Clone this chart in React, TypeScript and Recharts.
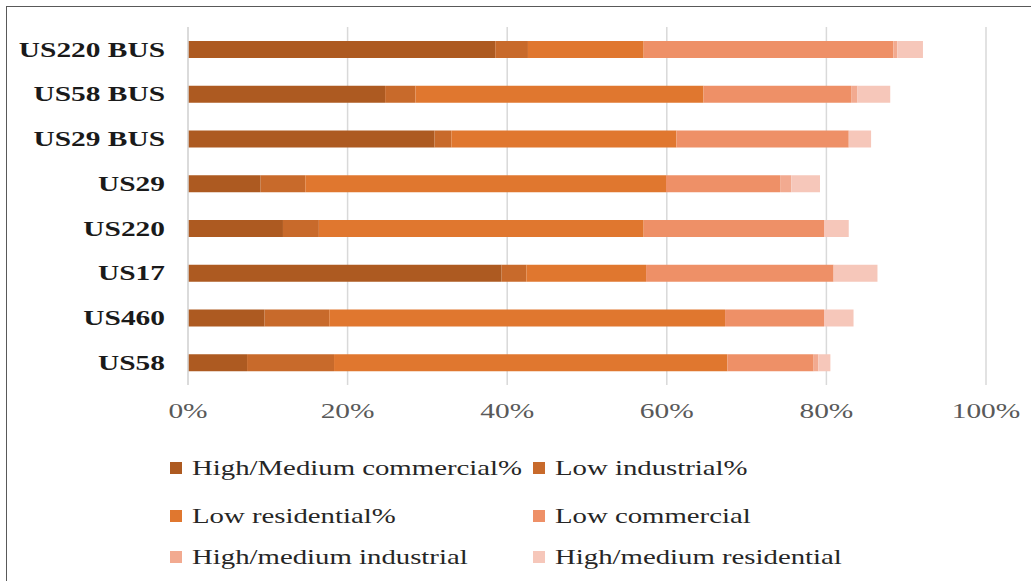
import React from 'react';
import { BarChart, Bar, XAxis, YAxis, CartesianGrid } from 'recharts';

// Roads, top to bottom
const categories = ['US220 BUS', 'US58 BUS', 'US29 BUS', 'US29', 'US220', 'US17', 'US460', 'US58'];

// Share of each land use (%)
const hmCommercial = [38.5, 24.7, 30.9, 9.1, 11.9, 39.3, 9.6, 7.4];
const lowIndustrial = [4.1, 3.8, 2.1, 5.6, 4.5, 3.1, 8.1, 10.9];
const lowResidential = [14.5, 36.1, 28.2, 45.2, 40.7, 15.0, 49.6, 49.3];
const lowCommercial = [31.3, 18.5, 21.6, 14.3, 22.6, 23.5, 12.4, 10.8];
const hmIndustrial = [0.5, 0.8, 0, 1.4, 0, 0, 0, 0.6];
const hmResidential = [3.2, 4.1, 2.8, 3.6, 3.1, 5.5, 3.7, 1.5];

const xTicks = [0, 20, 40, 60, 80, 100];

const seriesNames = [
  'High/Medium commercial%',
  'Low industrial%',
  'Low residential%',
  'Low commercial',
  'High/medium industrial',
  'High/medium residential',
];
const seriesKeys = ['hmc', 'li', 'lr', 'lc', 'hmi', 'hmr'];
const seriesColors = ['#ad5a21', '#c86a2b', '#e0772f', '#ee9067', '#f2aa90', '#f6c7ba'];

const data = categories.map((name, i) => ({
  name,
  hmc: hmCommercial[i],
  li: lowIndustrial[i],
  lr: lowResidential[i],
  lc: lowCommercial[i],
  hmi: hmIndustrial[i],
  hmr: hmResidential[i],
}));

const FONT = '"Liberation Serif", "Times New Roman", serif';
const STRETCH = 1.4;

const XTick = (props: any) => {
  const { x, y, payload } = props;
  return (
    <g transform={`translate(${x},${y})`}>
      <text
        x={0}
        y={0}
        dy="0.71em"
        textAnchor="middle"
        fill="#595959"
        fontSize={21}
        fontFamily={FONT}
        transform={`scale(${STRETCH},1)`}
      >
        {`${payload.value}%`}
      </text>
    </g>
  );
};

const YTick = (props: any) => {
  const { x, y, payload } = props;
  return (
    <g transform={`translate(${x},${y})`}>
      <text
        x={0}
        y={0}
        dy="0.35em"
        textAnchor="end"
        fill="#1a1a1a"
        fontSize={21}
        fontWeight="bold"
        fontFamily={FONT}
        transform={`scale(${STRETCH},1)`}
      >
        {payload.value}
      </text>
    </g>
  );
};

// legend slots: [left of square, centre y]
const legendPos = [
  [170, 468],
  [533, 468],
  [170, 516],
  [533, 516],
  [170, 557],
  [533, 557],
];

export default function App() {
  return (
    <div style={{ position: 'fixed', left: 0, top: 0, width: 1031, height: 581, overflow: 'hidden', background: '#fff' }}>
      <div
        style={{
          position: 'absolute',
          left: 6,
          top: 6,
          width: 1030,
          height: 590,
          border: '1px solid #595959',
          boxSizing: 'border-box',
        }}
      />
      <div style={{ position: 'absolute', left: 0, top: 0 }}>
        <BarChart
          width={1031}
          height={440}
          data={data}
          layout="vertical"
          margin={{ top: 27, right: 45, left: 0, bottom: 0 }}
          barSize={17}
        >
          <CartesianGrid horizontal={false} stroke="#d9d9d9" strokeWidth={1.5} />
          <XAxis
            type="number"
            domain={[0, 100]}
            ticks={xTicks}
            axisLine={false}
            tickLine={false}
            tickSize={0}
            tickMargin={18}
            height={55}
            tick={<XTick />}
            interval={0}
          />
          <YAxis
            type="category"
            dataKey="name"
            width={188}
            axisLine={{ stroke: '#d9d9d9', strokeWidth: 1.5 }}
            tickLine={false}
            tickSize={0}
            tickMargin={23}
            tick={<YTick />}
            interval={0}
          />
          {seriesKeys.map((k, i) => (
            <Bar key={k} dataKey={k} stackId="a" fill={seriesColors[i]} isAnimationActive={false} />
          ))}
        </BarChart>
      </div>
      {seriesNames.map((name, i) => (
        <div
          key={name}
          style={{
            position: 'absolute',
            left: legendPos[i][0],
            top: legendPos[i][1] - 14,
            height: 28,
            display: 'flex',
            alignItems: 'center',
            whiteSpace: 'nowrap',
          }}
        >
          <div style={{ width: 12, height: 12, background: seriesColors[i], marginRight: 10 }} />
          <span
            style={{
              display: 'inline-block',
              fontFamily: FONT,
              fontSize: 21,
              color: '#262626',
              transform: 'scaleX(1.37)',
              transformOrigin: 'left center',
            }}
          >
            {name}
          </span>
        </div>
      ))}
    </div>
  );
}
